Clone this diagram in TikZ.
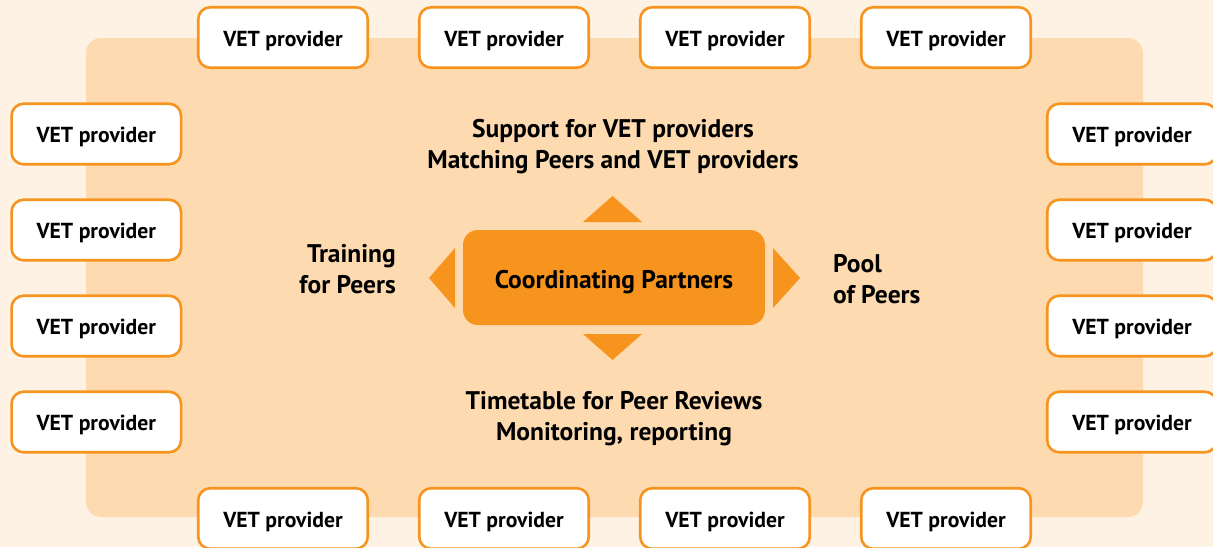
\documentclass[tikz,border=0pt]{standalone}
\usepackage{fontspec}
\setmainfont{PT Sans}
\definecolor{bgcream}{HTML}{FEF2E4}
\definecolor{panel}{HTML}{FDDAB0}
\definecolor{vetorange}{HTML}{F7941E}
\tikzset{
  vet/.style={draw=vetorange, line width=2.6pt, fill=white, rounded corners=12pt,
    minimum width=169.5pt, minimum height=60.5pt, inner sep=0pt,
    text height=17.5pt, text depth=0pt,
    font=\fontsize{21.7}{26}\selectfont\bfseries},
  lbl/.style={font=\fontsize{25.5}{31}\selectfont\bfseries, inner sep=0pt},
  tri/.style={fill=vetorange}
}
\begin{document}
\begin{tikzpicture}[x=1pt,y=-1pt]
\fill[bgcream] (0,0) rectangle (1213,547);
\useasboundingbox (0,0) rectangle (1213,547);
\fill[panel, rounded corners=15pt] (86,38) rectangle (1143,517);
% top row
\node[vet] (t1) at (283,37.5) {VET provider};
\node[vet] (t2) at (504,37.5) {VET provider};
\node[vet] (t3) at (725,37.5) {VET provider};
\node[vet] (t4) at (946,37.5) {VET provider};
% bottom row
\node[vet] (b1) at (283,518.5) {VET provider};
\node[vet] (b2) at (504,518.5) {VET provider};
\node[vet] (b3) at (725,518.5) {VET provider};
\node[vet] (b4) at (946,518.5) {VET provider};
% left column
\node[vet] (l1) at (96.3,134) {VET provider};
\node[vet] (l2) at (96.3,230) {VET provider};
\node[vet] (l3) at (96.3,326) {VET provider};
\node[vet] (l4) at (96.3,422) {VET provider};
% right column
\node[vet] (r1) at (1132,134) {VET provider};
\node[vet] (r2) at (1132,230) {VET provider};
\node[vet] (r3) at (1132,326) {VET provider};
\node[vet] (r4) at (1132,422) {VET provider};
% center
\node[fill=vetorange, rounded corners=15pt, minimum width=302pt, minimum height=95pt,
  text height=21pt, text depth=0pt,
  font=\fontsize{25.5}{30}\selectfont\bfseries, inner sep=0pt] (cp) at (614,277.5) {Coordinating Partners};
% triangles
\fill[tri] (583,222) -- (612.5,196) -- (642,222) -- cycle;
\fill[tri] (583,334) -- (612.5,360) -- (642,334) -- cycle;
\fill[tri] (455,248) -- (429,278) -- (455,308) -- cycle;
\fill[tri] (773,248) -- (800,278) -- (773,308) -- cycle;
% labels (anchor base = baseline of last line)
\node[lbl, align=center, anchor=base] (ltop) at (613,168) {Support for VET providers\\Matching Peers and VET providers};
\node[lbl, align=center, anchor=base] (lbot) at (614,440) {Timetable for Peer Reviews\\Monitoring, reporting};
\node[lbl, align=right, anchor=base east] (lleft) at (396,293) {Training\\for Peers};
\node[lbl, align=left, anchor=base west] (lright) at (833,303) {Pool\\of Peers};
\end{tikzpicture}
\end{document}
